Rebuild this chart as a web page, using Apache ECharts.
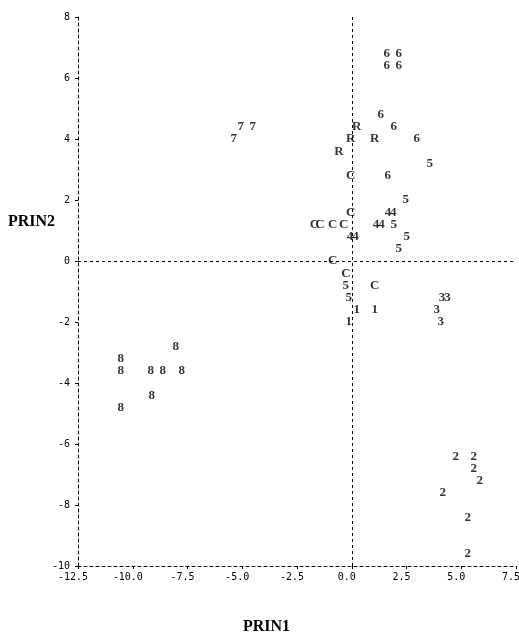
<!DOCTYPE html>
<html>
<head>
<meta charset="utf-8">
<script src="https://cdn.jsdelivr.net/npm/echarts@6/dist/echarts.min.js"></script>
<style>html,body{margin:0;padding:0;background:#fff}#c{width:519px;height:635px}</style>
</head>
<body>
<div id="c"></div>
<script>
// Group symbols (plot characters) and their PRIN1 / PRIN2 values
const groups = ['1','2','3','4','5','6','7','8','C','R'];
const x1 = [0.23, 1.05, -0.14];
const y1 = [-1.6, -1.6, -2.0];
const x2 = [4.75, 5.57, 5.57, 5.84, 4.16, 5.30, 5.30];
const y2 = [-6.4, -6.4, -6.8, -7.2, -7.6, -8.4, -9.6];
const x3 = [4.12, 4.37, 3.88, 4.06];
const y3 = [-1.2, -1.2, -1.6, -2.0];
const x4 = [1.65, 1.90, 1.11, 1.36, -0.08, 0.17];
const y4 = [1.6, 1.6, 1.2, 1.2, 0.8, 0.8];
const x5 = [3.56, 2.47, 1.92, 2.51, 2.15, -0.27, -0.14];
const y5 = [3.2, 2.0, 1.2, 0.8, 0.4, -0.8, -1.2];
const x6 = [1.60, 2.15, 1.60, 2.15, 1.32, 1.92, 2.97, 1.64];
const y6 = [6.8, 6.8, 6.4, 6.4, 4.8, 4.4, 4.0, 2.8];
const x7 = [-5.07, -4.52, -5.39];
const y7 = [4.4, 4.4, 4.0];
const x8 = [-8.04, -10.55, -10.55, -9.18, -8.63, -7.76, -9.13, -10.55];
const y8 = [-2.8, -3.2, -3.6, -3.6, -3.6, -3.6, -4.4, -4.8];
const xC = [-0.05, -0.05, -1.70, -1.45, -0.87, -0.37, -0.87, -0.27, 1.05];
const yC = [2.8, 1.6, 1.2, 1.2, 1.2, 1.2, 0.0, -0.4, -0.8];
const xR = [0.23, -0.05, 1.05, -0.59];
const yR = [4.4, 4.0, 4.0, 3.6];

const xs = [x1, x2, x3, x4, x5, x6, x7, x8, xC, xR];
const ys = [y1, y2, y3, y4, y5, y6, y7, y8, yC, yR];

const xTitle = 'PRIN1';
const yTitle = 'PRIN2';

const dash = [3, 3];
const series = groups.map((g, i) => ({
  type: 'scatter',
  name: g,
  data: xs[i].map((v, k) => [v, ys[i][k]]),
  symbol: 'circle',
  symbolSize: 1,
  itemStyle: { color: 'rgba(0,0,0,0)' },
  label: {
    show: true,
    position: 'inside',
    formatter: g,
    color: '#000',
    fontFamily: 'Liberation Serif',
    fontWeight: 'bold',
    fontSize: 13
  },
  emphasis: { disabled: true },
  z: 5
}));

series.push({
  type: 'scatter',
  data: [],
  silent: true,
  markLine: {
    silent: true,
    symbol: 'none',
    label: { show: false },
    lineStyle: { color: '#000', type: dash, width: 1 },
    data: [{ xAxis: 0 }, { yAxis: 0 }]
  },
  z: 1
});

const chart = echarts.init(document.getElementById('c'), null, { renderer: 'canvas' });
chart.setOption({
  animation: false,
  backgroundColor: '#fff',
  grid: { left: 78, right: 3, top: 17, bottom: 69, containLabel: false, outerBoundsMode: 'none' },
  xAxis: {
    type: 'value', min: -12.5, max: 7.5, interval: 2.5,
    axisLine: { show: true, onZero: false, lineStyle: { color: '#000', type: dash, width: 1 } },
    axisTick: { show: true, length: 3, lineStyle: { color: '#000' } },
    splitLine: { show: false },
    axisLabel: {
      color: '#000', fontFamily: 'DejaVu Sans Mono', fontSize: 10, margin: 6,
      padding: [0, 10, 0, 0],
      formatter: v => v.toFixed(1)
    }
  },
  yAxis: {
    type: 'value', min: -10, max: 8, interval: 2,
    axisLine: { show: true, onZero: false, lineStyle: { color: '#000', type: dash, width: 1 } },
    axisTick: { show: true, length: 3, lineStyle: { color: '#000' } },
    splitLine: { show: false },
    axisLabel: { color: '#000', fontFamily: 'DejaVu Sans Mono', fontSize: 10, margin: 8 }
  },
  graphic: [
    { type: 'text', left: 8, top: 214, style: { text: yTitle, font: 'bold 16px "Liberation Serif"', fill: '#000' } },
    { type: 'text', left: 243, top: 619, style: { text: xTitle, font: 'bold 16px "Liberation Serif"', fill: '#000' } }
  ],
  series: series
});
</script>
</body>
</html>
